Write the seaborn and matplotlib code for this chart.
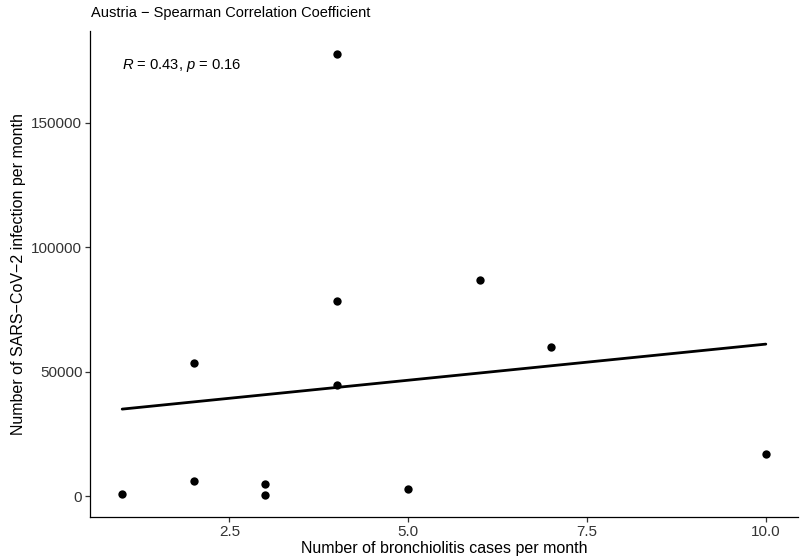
import matplotlib
matplotlib.use("Agg")
import matplotlib.pyplot as plt
import seaborn as sns
import pandas as pd

# Monthly counts for Austria
bronchiolitis_cases = [1, 2, 2, 3, 3, 4, 4, 4, 5, 6, 7, 10]
sars_cov2_infections = [1000, 6000, 53400, 4900, 600, 44800, 78300, 177700,
                        3000, 86700, 60000, 17000]
x_ticks = [2.5, 5.0, 7.5, 10.0]
x_tick_labels = ["2.5", "5.0", "7.5", "10.0"]
y_ticks = [0, 50000, 100000, 150000]
y_tick_labels = ["0", "50000", "100000", "150000"]
title = "Austria \u2212 Spearman Correlation Coefficient"
stat_label = r"$R$ = 0.43, $p$ = 0.16"

df = pd.DataFrame({"cases": bronchiolitis_cases, "infections": sars_cov2_infections})

sns.set_theme(style="white")
plt.rcParams["font.family"] = ["Liberation Sans", "DejaVu Sans"]
plt.rcParams["mathtext.fontset"] = "custom"
plt.rcParams["mathtext.rm"] = "Liberation Sans"
plt.rcParams["mathtext.it"] = "Liberation Sans:italic"

fig = plt.figure(figsize=(8, 5.6), dpi=100)
ax = fig.add_axes([0.1125, 0.0768, 0.885, 0.867])

sns.regplot(data=df, x="cases", y="infections", ci=None, ax=ax,
            scatter_kws={"s": 36, "color": "black", "alpha": 1.0,
                         "linewidths": 0, "zorder": 3},
            line_kws={"color": "black", "lw": 2.0, "zorder": 2})

# ggplot-like 5% padding around the data range
xmin, xmax = min(bronchiolitis_cases), max(bronchiolitis_cases)
ymin, ymax = min(sars_cov2_infections), max(sars_cov2_infections)
xpad = 0.05 * (xmax - xmin)
ypad = 0.05 * (ymax - ymin)
ax.set_xlim(xmin - xpad, xmax + xpad)
ax.set_ylim(ymin - ypad, ymax + ypad)

ax.set_xticks(x_ticks)
ax.set_xticklabels(x_tick_labels)
ax.set_yticks(y_ticks)
ax.set_yticklabels(y_tick_labels)

for side in ("top", "right"):
    ax.spines[side].set_visible(False)
for side in ("left", "bottom"):
    ax.spines[side].set_color("black")
    ax.spines[side].set_linewidth(0.9)

ax.tick_params(axis="both", which="both", direction="out", length=3.5, width=0.9,
               color="#333333", labelcolor="#333333", labelsize=11, pad=2,
               bottom=True, left=True)

ax.set_xlabel("Number of bronchiolitis cases per month", fontsize=11.5, labelpad=1.5,
              color="black")
ax.set_ylabel("Number of SARS\u2212CoV\u22122 infection per month", fontsize=11.5,
              labelpad=4, color="black")

ax.text(1, 173000, stat_label, fontsize=10.6, ha="left", va="center", color="black")

fig.text(0.1138, 0.976, title, fontsize=10.5, ha="left", va="center", color="black")

fig.savefig("out.png", dpi=100)
